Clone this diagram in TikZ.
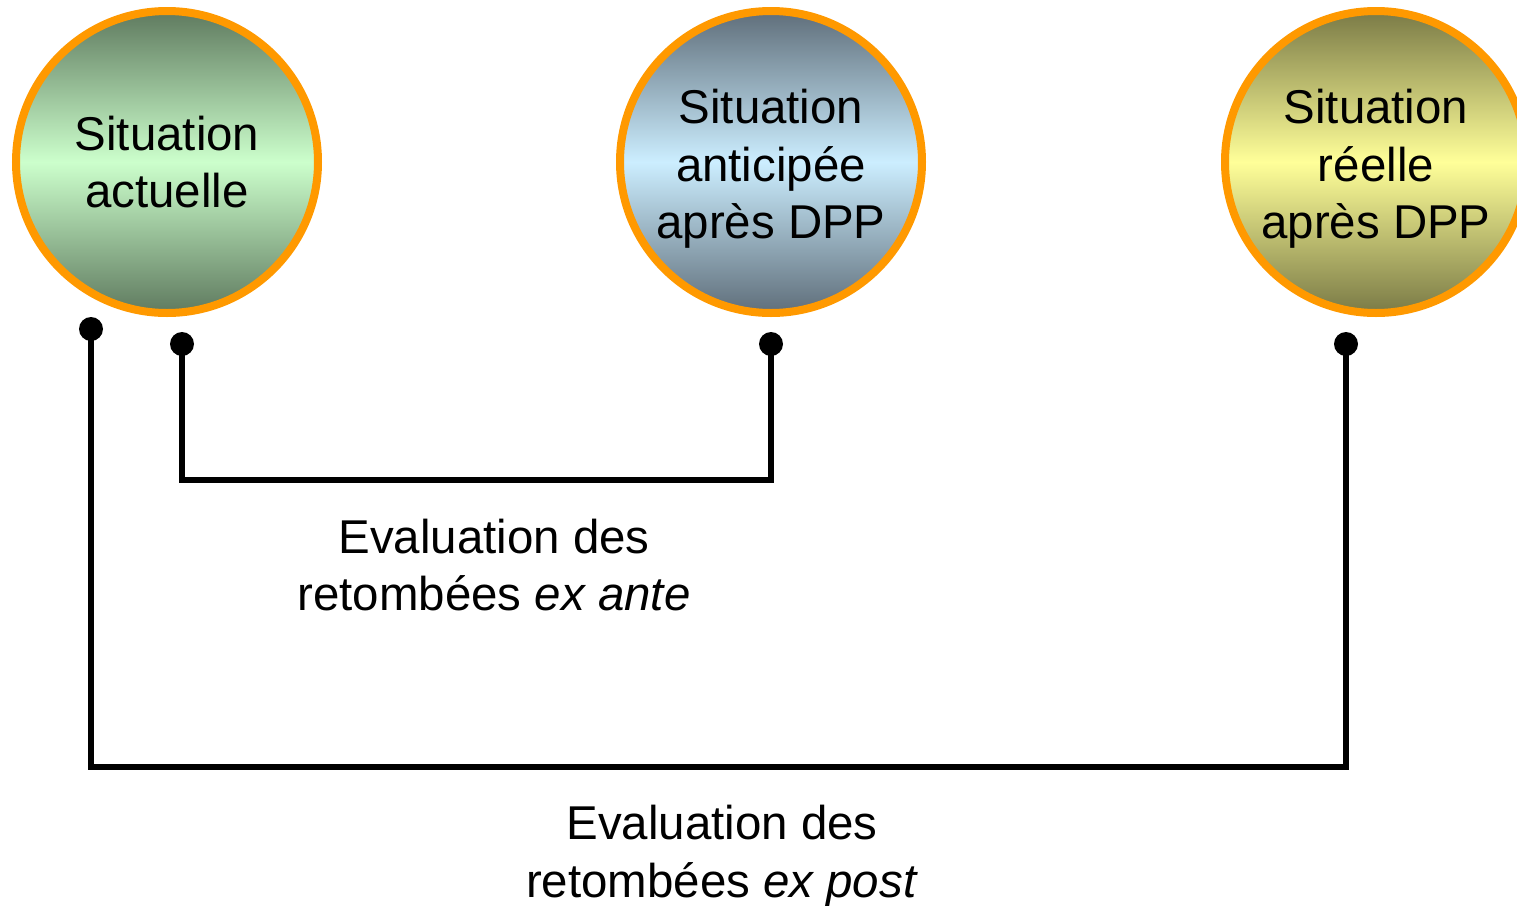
\documentclass[tikz,border=0pt]{standalone}
\usepackage{fontspec}
\setmainfont{Liberation Sans}
\usetikzlibrary{calc}

\definecolor{ringorange}{RGB}{255,153,0}
\definecolor{greendark}{RGB}{95,122,95}
\definecolor{greenlight}{RGB}{204,255,204}
\definecolor{slatedark}{RGB}{95,110,122}
\definecolor{slatelight}{RGB}{204,238,255}
\definecolor{olivedark}{RGB}{122,122,70}
\definecolor{olivelight}{RGB}{255,255,153}

\newcommand{\topstrut}{\rule{0pt}{0.48cm}}

\begin{document}
\begin{tikzpicture}[
    situation/.style={circle, draw=ringorange, line width=0.08cm, minimum size=3.02cm,
      inner sep=0pt, align=center, font=\fontsize{13.5}{16.4}\selectfont},
    label text/.style={align=center, font=\fontsize{13.5}{16.4}\selectfont},
    pin dot/.style={circle, fill=black, inner sep=0pt, minimum size=0.24cm},
    link/.style={line width=0.06cm}
  ]
      \useasboundingbox (0,0) rectangle (15.17,-9.06);

      % the three situations
      \node[situation, top color=greendark, bottom color=greendark, middle color=greenlight]
        (actuelle) at (1.67,-1.62) {Situation\\actuelle};
      \node[situation, top color=slatedark, bottom color=slatedark, middle color=slatelight]
        (anticipee) at (7.71,-1.62) {\topstrut Situation\\anticipée\\après DPP};
      \node[situation, top color=olivedark, bottom color=olivedark, middle color=olivelight]
        (reelle) at (13.76,-1.62) {\topstrut Situation\\réelle\\après DPP};

      % dots under the circles
      \node[pin dot] (dotPost) at (0.91,-3.29) {};
      \node[pin dot] (dotAnteL) at (1.82,-3.44) {};
      \node[pin dot] (dotAnteR) at (7.71,-3.44) {};
      \node[pin dot] (dotPostR) at (13.46,-3.44) {};

      % ex ante
      \coordinate (anteBar) at (4.76,-4.80);
      \draw[link] (dotAnteL.center) |- (anteBar) -| (dotAnteR.center);
      \node[label text] (exante) at (4.94,-5.65) {Evaluation des\\retombées \textit{ex ante}};

      % ex post
      \coordinate (postBar) at (7.18,-7.67);
      \draw[link] (dotPost.center) |- (postBar) -| (dotPostR.center);
      \node[label text] (expost) at (7.22,-8.56) {Evaluation des\\retombées \textit{ex post}};
    \end{tikzpicture}
\end{document}
